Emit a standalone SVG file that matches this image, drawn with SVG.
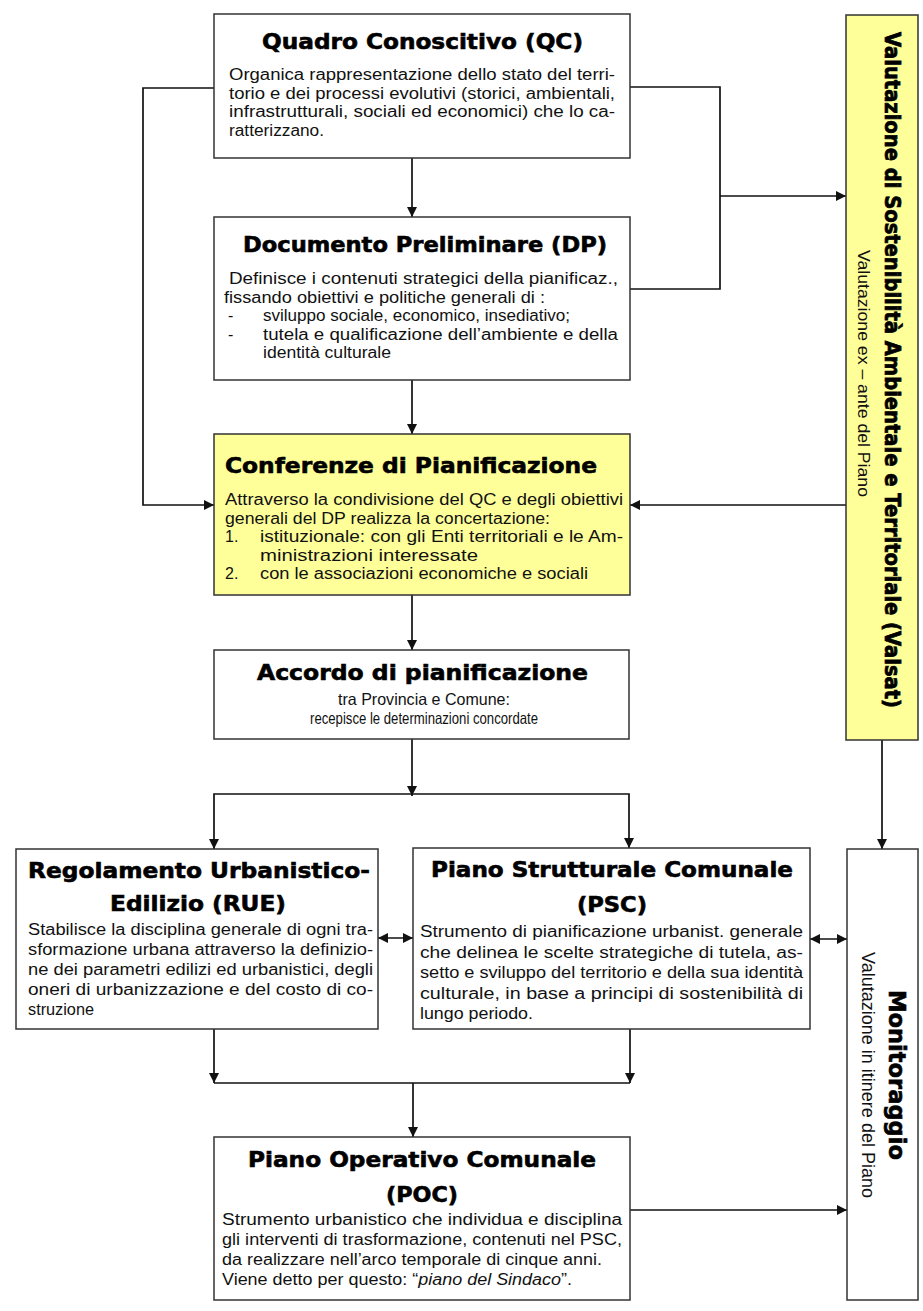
<svg xmlns="http://www.w3.org/2000/svg" width="923" height="1311" viewBox="0 0 923 1311">
<style>
.box{fill:#fff;stroke:#333;stroke-width:1.5}
.yel{fill:#ffff99}
.t{font-family:"DejaVu Sans","Liberation Sans",sans-serif;font-weight:bold;font-size:21px;fill:#000;stroke:#000;stroke-width:0.6}
.b{font-family:"Liberation Sans",Arial,sans-serif;font-size:16px;fill:#111}
.c{stroke:#111;stroke-width:1.7;fill:none}
</style>
<defs>
<marker id="ah" viewBox="0 0 10 10" refX="10" refY="5" markerWidth="10" markerHeight="10" markerUnits="userSpaceOnUse" orient="auto-start-reverse">
<path d="M0,0 L10,5 L0,10 z" fill="#111"/>
</marker>
</defs>
<rect width="923" height="1311" fill="#fff"/>

<g id="connectors">
<line class="c" x1="412" y1="158" x2="412" y2="217" marker-end="url(#ah)"/>
<line class="c" x1="412" y1="380" x2="412" y2="434" marker-end="url(#ah)"/>
<line class="c" x1="412" y1="595" x2="412" y2="650" marker-end="url(#ah)"/>
<line class="c" x1="412" y1="739" x2="412" y2="796" marker-end="url(#ah)"/>
<polyline class="c" points="214,849 214,794 629,794 629,848" marker-start="url(#ah)" marker-end="url(#ah)"/>
<polyline class="c" points="214,88 143,88 143,505 214,505" marker-end="url(#ah)"/>
<polyline class="c" points="630,87 720,87 720,289 630,289"/>
<line class="c" x1="720" y1="196" x2="846" y2="196" marker-end="url(#ah)"/>
<line class="c" x1="846" y1="505" x2="630" y2="505" marker-end="url(#ah)"/>
<line class="c" x1="882" y1="740" x2="882" y2="849" marker-end="url(#ah)"/>
<line class="c" x1="378" y1="938" x2="413" y2="938" marker-start="url(#ah)" marker-end="url(#ah)"/>
<line class="c" x1="810" y1="939" x2="847" y2="939" marker-start="url(#ah)" marker-end="url(#ah)"/>
<line class="c" x1="214" y1="1029" x2="214" y2="1083" marker-end="url(#ah)"/>
<line class="c" x1="630" y1="1029" x2="630" y2="1083" marker-end="url(#ah)"/>
<line class="c" x1="214" y1="1083" x2="630" y2="1083"/>
<line class="c" x1="413" y1="1083" x2="413" y2="1137" marker-end="url(#ah)"/>
<line class="c" x1="630" y1="1210" x2="847" y2="1210" marker-end="url(#ah)"/>
</g>

<g id="qc">
<rect class="box" x="214" y="14" width="416" height="144"/>
<text class="t" x="422.5" y="49" text-anchor="middle" textLength="321" lengthAdjust="spacingAndGlyphs">Quadro Conoscitivo (QC)</text>
<text class="b" x="229" y="80" textLength="386" lengthAdjust="spacingAndGlyphs">Organica rappresentazione dello stato del terri-</text>
<text class="b" x="229" y="99" textLength="386" lengthAdjust="spacingAndGlyphs">torio e dei processi evolutivi (storici, ambientali,</text>
<text class="b" x="229" y="117" textLength="386" lengthAdjust="spacingAndGlyphs">infrastrutturali, sociali ed economici) che lo ca-</text>
<text class="b" x="229" y="136" textLength="95" lengthAdjust="spacingAndGlyphs">ratterizzano.</text>
</g>

<g id="dp">
<rect class="box" x="214" y="217" width="416" height="163"/>
<text class="t" x="425" y="252" text-anchor="middle" textLength="364" lengthAdjust="spacingAndGlyphs">Documento Preliminare (DP)</text>
<text class="b" x="229" y="284" textLength="389" lengthAdjust="spacingAndGlyphs">Definisce i contenuti strategici della pianificaz.,</text>
<text class="b" x="224" y="302.5" textLength="321" lengthAdjust="spacingAndGlyphs">fissando obiettivi e politiche generali di :</text>
<text class="b" x="228" y="321">-</text>
<text class="b" x="263" y="321" textLength="307" lengthAdjust="spacingAndGlyphs">sviluppo sociale, economico, insediativo;</text>
<text class="b" x="228" y="339.5">-</text>
<text class="b" x="263" y="339.5" textLength="355" lengthAdjust="spacingAndGlyphs">tutela e qualificazione dell’ambiente e della</text>
<text class="b" x="263" y="358" textLength="128" lengthAdjust="spacingAndGlyphs">identità culturale</text>
</g>

<g id="conferenze">
<rect class="box yel" x="214" y="434" width="416" height="161"/>
<text class="t" x="225" y="473" textLength="372" lengthAdjust="spacingAndGlyphs">Conferenze di Pianificazione</text>
<text class="b" x="225" y="505" textLength="398" lengthAdjust="spacingAndGlyphs">Attraverso la condivisione del QC e degli obiettivi</text>
<text class="b" x="225" y="523.5" textLength="325" lengthAdjust="spacingAndGlyphs">generali del DP realizza la concertazione:</text>
<text class="b" x="225" y="542">1.</text>
<text class="b" x="260" y="542" textLength="363" lengthAdjust="spacingAndGlyphs">istituzionale: con gli Enti territoriali e le Am-</text>
<text class="b" x="260" y="560.5" textLength="218" lengthAdjust="spacingAndGlyphs">ministrazioni interessate</text>
<text class="b" x="225" y="579">2.</text>
<text class="b" x="260" y="579" textLength="328" lengthAdjust="spacingAndGlyphs">con le associazioni economiche e  sociali</text>
</g>

<g id="accordo">
<rect class="box" x="214" y="650" width="415" height="89"/>
<text class="t" x="422.5" y="680" text-anchor="middle" textLength="331" lengthAdjust="spacingAndGlyphs">Accordo di pianificazione</text>
<text class="b" x="424" y="705" text-anchor="middle" textLength="172" lengthAdjust="spacingAndGlyphs" style="font-size:16.5px">tra Provincia e Comune:</text>
<text class="b" x="424" y="724" text-anchor="middle" textLength="228" lengthAdjust="spacingAndGlyphs" style="font-size:16.5px">recepisce le determinazioni concordate</text>
</g>

<g id="rue">
<rect class="box" x="16" y="849" width="362" height="180"/>
<text class="t" x="199" y="878" text-anchor="middle" textLength="342" lengthAdjust="spacingAndGlyphs">Regolamento Urbanistico-</text>
<text class="t" x="198" y="911" text-anchor="middle" textLength="176" lengthAdjust="spacingAndGlyphs">Edilizio (RUE)</text>
<text class="b" x="28" y="935" textLength="345" lengthAdjust="spacingAndGlyphs">Stabilisce la disciplina generale di ogni tra-</text>
<text class="b" x="28" y="955" textLength="345" lengthAdjust="spacingAndGlyphs">sformazione urbana attraverso la definizio-</text>
<text class="b" x="28" y="975" textLength="345" lengthAdjust="spacingAndGlyphs">ne dei parametri edilizi ed urbanistici, degli</text>
<text class="b" x="28" y="995" textLength="345" lengthAdjust="spacingAndGlyphs">oneri di urbanizzazione e del costo di co-</text>
<text class="b" x="28" y="1015" textLength="66" lengthAdjust="spacingAndGlyphs">struzione</text>
</g>

<g id="psc">
<rect class="box" x="413" y="848" width="397" height="181"/>
<text class="t" x="612" y="877" text-anchor="middle" textLength="362" lengthAdjust="spacingAndGlyphs">Piano Strutturale Comunale</text>
<text class="t" x="612" y="912" text-anchor="middle" textLength="70" lengthAdjust="spacingAndGlyphs">(PSC)</text>
<text class="b" x="420" y="937" textLength="383" lengthAdjust="spacingAndGlyphs">Strumento di pianificazione urbanist. generale</text>
<text class="b" x="420" y="957.5" textLength="383" lengthAdjust="spacingAndGlyphs">che delinea le scelte strategiche di tutela, as-</text>
<text class="b" x="420" y="978" textLength="383" lengthAdjust="spacingAndGlyphs">setto e sviluppo del territorio e della sua identità</text>
<text class="b" x="420" y="998.5" textLength="383" lengthAdjust="spacingAndGlyphs">culturale, in base a principi di sostenibilità di</text>
<text class="b" x="420" y="1019" textLength="113" lengthAdjust="spacingAndGlyphs">lungo periodo.</text>
</g>

<g id="poc">
<rect class="box" x="214" y="1137" width="416" height="163"/>
<text class="t" x="422" y="1167" text-anchor="middle" textLength="348" lengthAdjust="spacingAndGlyphs">Piano Operativo Comunale</text>
<text class="t" x="422" y="1202" text-anchor="middle" textLength="72" lengthAdjust="spacingAndGlyphs">(POC)</text>
<text class="b" x="222" y="1225" textLength="400" lengthAdjust="spacingAndGlyphs">Strumento urbanistico che individua e disciplina</text>
<text class="b" x="222" y="1245" textLength="400" lengthAdjust="spacingAndGlyphs">gli interventi di trasformazione, contenuti nel PSC,</text>
<text class="b" x="222" y="1265" textLength="380" lengthAdjust="spacingAndGlyphs">da realizzare nell’arco temporale di cinque anni.</text>
<text class="b" x="222" y="1285" textLength="350" lengthAdjust="spacingAndGlyphs">Viene detto per questo: “<tspan font-style="italic">piano del Sindaco</tspan>”.</text>
</g>

<g id="valsat">
<rect class="box yel" x="846" y="15" width="72" height="725"/>
<text class="t" transform="translate(885,32) rotate(90) scale(1,1.28)" style="font-size:17px" textLength="676" lengthAdjust="spacingAndGlyphs">Valutazione di Sostenibilità Ambientale e Territoriale (Valsat)</text>
<text class="b" transform="translate(858,250) rotate(90)" style="font-size:17px" textLength="247" lengthAdjust="spacingAndGlyphs">Valutazione ex – ante del Piano</text>
</g>

<g id="monitoraggio">
<rect class="box" x="847" y="849" width="71" height="451"/>
<text class="t" transform="translate(889,990) rotate(90) scale(1,1.05)" style="font-size:22.5px" textLength="170" lengthAdjust="spacingAndGlyphs">Monitoraggio</text>
<text class="b" transform="translate(862,952) rotate(90)" style="font-size:17.5px" textLength="246" lengthAdjust="spacingAndGlyphs">Valutazione in itinere del Piano</text>
</g>
</svg>
